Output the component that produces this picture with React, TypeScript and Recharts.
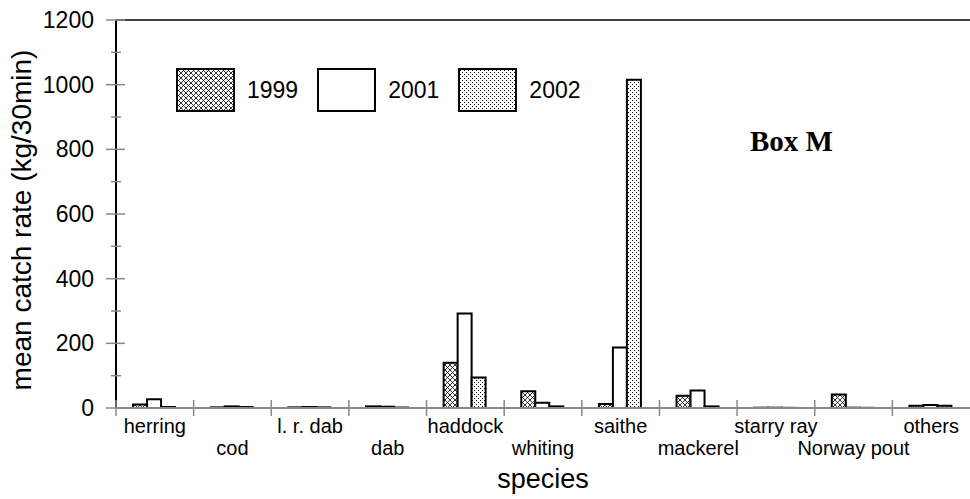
import React from "react";
import { BarChart, Bar, XAxis, YAxis, Legend, ReferenceLine } from "recharts";

const species = [
    "herring",
    "cod",
    "l. r. dab",
    "dab",
    "haddock",
    "whiting",
    "saithe",
    "mackerel",
    "starry ray",
    "Norway pout",
    "others",
];
const catch1999 = [11, 2, 2, 5, 140, 52, 12, 38, 1, 42, 7];
const catch2001 = [27, 5, 3, 4, 292, 16, 187, 54, 1, 1, 9];
const catch2002 = [3, 3, 2, 1.5, 94, 5, 1015, 5, 0.5, 0.5, 7];
const yTicks = [0, 100, 200, 300, 400, 500, 600, 700, 800, 900, 1000, 1100, 1200];

const years = [
    { key: "y1999", label: "1999", fill: "url(#p1999)" },
    { key: "y2001", label: "2001", fill: "#fff" },
    { key: "y2002", label: "2002", fill: "url(#p2002)" },
];

const data = species.map((s, i) => ({
    name: s,
    y1999: catch1999[i],
    y2001: catch2001[i],
    y2002: catch2002[i],
}));

const W = 970;
const H = 499;
const LEFT = 116;
const BAND = (W - LEFT) / species.length;
const FONT = "'Liberation Sans', Arial, sans-serif";

const YTick = (props: any) => {
    const { y, payload } = props;
    const major = payload.value % 200 === 0;
    return (
        <g>
            <line
                x1={major ? LEFT - 10 : LEFT - 5}
                x2={major ? LEFT + 9 : LEFT + 5}
                y1={y}
                y2={y}
                stroke="#888"
                strokeWidth={1.5}
            />
            {major && (
                <text x={94} y={y} dy={8} textAnchor="end" fontFamily={FONT} fontSize={23} fill="#000">
                    {payload.value}
                </text>
            )}
        </g>
    );
};

const XTick = (props: any) => {
    const { x, y, payload, index } = props;
    const bx = x - BAND / 2;
    return (
        <g>
            <line x1={bx} x2={bx} y1={y - 8} y2={y + 8} stroke="#888" strokeWidth={1.5} />
            <text
                x={x}
                y={y + (index % 2 === 0 ? 25 : 47)}
                textAnchor="middle"
                fontFamily={FONT}
                fontSize={20}
                fill="#000"
            >
                {payload.value}
            </text>
        </g>
    );
};

const renderLegend = () => (
    <div style={{ display: "flex", alignItems: "center", fontFamily: FONT, fontSize: 23 }}>
        {years.map((yr) => (
            <div key={yr.key} style={{ display: "flex", alignItems: "center", marginRight: 19 }}>
                <svg width={59} height={44}>
                    <rect x={1} y={1} width={57} height={42} fill={yr.fill} stroke="#000" strokeWidth={2} />
                </svg>
                <span style={{ marginLeft: 12 }}>{yr.label}</span>
            </div>
        ))}
    </div>
);

const App = () => {
    return (
        <div style={{ position: "absolute", left: 0, top: 0, width: W, height: H, background: "#fff" }}>
            <BarChart
                width={W}
                height={H}
                data={data}
                margin={{ top: 20, right: 0, bottom: 0, left: 0 }}
                barCategoryGap="22%"
                barGap={0}
            >
                <defs>
                    <pattern id="p1999" width="5" height="5" patternUnits="userSpaceOnUse">
                        <rect width="5" height="5" fill="#fff" />
                        <path d="M0,0 L5,5 M5,0 L0,5" stroke="#000" strokeWidth="0.8" />
                    </pattern>
                    <pattern id="p2002" width="4" height="4" patternUnits="userSpaceOnUse">
                        <rect width="4" height="4" fill="#fff" />
                        <rect x="0" y="0" width="1" height="1" fill="#000" />
                        <rect x="2" y="2" width="1" height="1" fill="#000" />
                    </pattern>
                </defs>
                <XAxis
                    dataKey="name"
                    height={H - 20 - 388}
                    tickLine={false}
                    tickSize={0}
                    tickMargin={0}
                    interval={0}
                    axisLine={{ stroke: "#888", strokeWidth: 2 }}
                    tick={<XTick />}
                    label={{
                        content: () => (
                            <text x={543} y={488} textAnchor="middle" fontFamily={FONT} fontSize={27} fill="#000">
                                species
                            </text>
                        ),
                    }}
                />
                <YAxis
                    width={LEFT}
                    domain={[0, 1200]}
                    ticks={yTicks}
                    interval={0}
                    tickLine={false}
                    axisLine={{ stroke: "#000", strokeWidth: 2 }}
                    tick={<YTick />}
                    label={{
                        content: () => (
                            <text
                                x={31}
                                y={220}
                                transform="rotate(-90 31 220)"
                                textAnchor="middle"
                                fontFamily={FONT}
                                fontSize={28}
                                fill="#000"
                            >
                                mean catch rate (kg/30min)
                            </text>
                        ),
                    }}
                />
                <ReferenceLine y={1200} stroke="#444" strokeWidth={2} />
                <Legend
                    layout="horizontal"
                    verticalAlign="middle"
                    align="center"
                    content={renderLegend}
                    wrapperStyle={{ top: 68, left: 176, width: 460, height: 44 }}
                />
                {years.map((yr) => (
                    <Bar
                        key={yr.key}
                        dataKey={yr.key}
                        name={yr.label}
                        fill={yr.fill}
                        stroke="#000"
                        strokeWidth={2}
                        isAnimationActive={false}
                    />
                ))}
            </BarChart>
            <div
                style={{
                    position: "absolute",
                    left: 750,
                    top: 126,
                    fontFamily: "'Liberation Serif', 'Times New Roman', serif",
                    fontWeight: "bold",
                    fontSize: 29,
                    lineHeight: "30px",
                }}
            >
                Box M
            </div>
        </div>
    );
};

export default App;
